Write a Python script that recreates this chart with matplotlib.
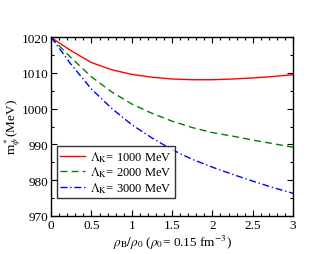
import matplotlib
matplotlib.use("Agg")
import matplotlib.pyplot as plt
from matplotlib.ticker import MultipleLocator, FuncFormatter

plt.rcParams['font.family'] = ['Liberation Serif', 'DejaVu Serif']
plt.rcParams['mathtext.fontset'] = 'stix'

# density ratio rho_B / rho_0
rho = [0.0, 0.1, 0.25, 0.5, 0.75, 1.0, 1.25, 1.5, 1.75, 2.0, 2.25, 2.5, 2.75, 3.0]

# in-medium phi mass (MeV) for three cutoff values
m_1000 = [1020.0, 1018.4, 1016.2, 1012.9, 1010.9, 1009.6, 1008.8, 1008.3, 1008.1, 1008.1, 1008.3, 1008.6, 1009.0, 1009.5]
m_2000 = [1020.0, 1017.6, 1014.2, 1008.9, 1004.7, 1001.3, 998.7, 996.5, 994.7, 993.3, 992.3, 991.2, 990.2, 989.2]
m_3000 = [1020.0, 1016.9, 1012.3, 1005.5, 1000.1, 995.5, 991.8, 988.5, 985.8, 983.6, 981.6, 979.7, 977.9, 976.3]

labels = [r'$\Lambda_\mathrm{K}$= 1000 MeV', r'$\Lambda_\mathrm{K}$= 2000 MeV', r'$\Lambda_\mathrm{K}$= 3000 MeV']

fig = plt.figure(figsize=(3.3, 2.55), dpi=100)
ax = fig.add_axes([0.155, 0.150, 0.733, 0.700])

ax.plot(rho, m_1000, color='red', lw=1.0, ls='-', label=labels[0])
ax.plot(rho, m_2000, color='green', lw=1.0, ls=(0, (5, 3)), label=labels[1])
ax.plot(rho, m_3000, color='blue', lw=1.0, ls=(0, (5, 2, 1, 2)), label=labels[2])

ax.set_xlim(0, 3)
ax.set_ylim(970, 1020)
ax.xaxis.set_major_locator(MultipleLocator(0.5))
ax.xaxis.set_minor_locator(MultipleLocator(0.1))
ax.yaxis.set_major_locator(MultipleLocator(10))
ax.yaxis.set_minor_locator(MultipleLocator(5))
ax.xaxis.set_major_formatter(FuncFormatter(lambda v, p: '%g' % v))
ax.tick_params(which='both', direction='in', top=True, right=True, labelsize=9.5, pad=2)
ax.tick_params(which='major', length=4, width=0.8)
ax.tick_params(which='minor', length=2, width=0.8)
for s in ax.spines.values():
    s.set_linewidth(1.0)

ax.set_xlabel(r'$\rho_\mathrm{B}/\rho_0$ ($\rho_0$= 0.15 fm$^{-3}$)', fontsize=9.5, labelpad=2)
ax.set_ylabel(r'm$^*_\phi$(MeV)', fontsize=9.5, labelpad=-1)

leg = ax.legend(loc='lower left', bbox_to_anchor=(0.025, 0.1), fontsize=9, frameon=True,
                fancybox=False, edgecolor='black', handlelength=2.0, handletextpad=0.4,
                borderpad=0.25, labelspacing=0.05, borderaxespad=0)
leg.get_frame().set_linewidth(1.0)

fig.savefig('out.png', dpi=100)
